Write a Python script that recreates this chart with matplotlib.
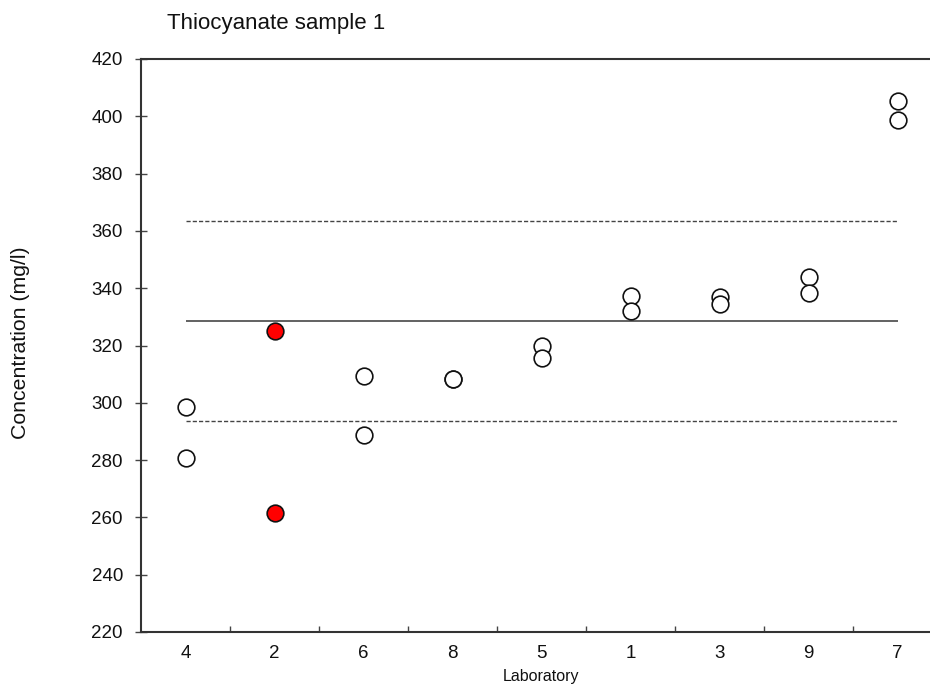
import matplotlib.pyplot as plt
import numpy as np

plt.rcParams['font.family'] = ['Liberation Sans', 'DejaVu Sans']

# ==================== data ====================
labs = ['4', '2', '6', '8', '5', '1', '3', '9', '7']
rep1 = [298.4, 325.0, 309.2, 308.4, 319.8, 337.2, 336.8, 343.9, 405.5]
rep2 = [280.6, 261.4, 288.9, 308.2, 315.7, 332.1, 334.5, 338.2, 398.8]
outlier_labs = ['2']
assigned = 328.5
lower_lim = 293.5
upper_lim = 363.5

# ==================== figure ====================
fig = plt.figure(figsize=(9.3, 6.84), dpi=100)
ax = fig.add_axes([141 / 930, 52 / 684, 801 / 930, 573 / 684])

x = np.arange(1, len(labs) + 1)

ax.hlines(assigned, x[0], x[-1], color='#555555', linewidth=1.3, zorder=1)
ax.hlines([lower_lim, upper_lim], x[0], x[-1], color='#444444', linewidth=1.0,
          linestyles=(0, (3, 1.5)), zorder=1)

for i, lab in enumerate(labs):
    face = 'red' if lab in outlier_labs else 'white'
    ax.plot([x[i], x[i]], [rep1[i], rep2[i]], linestyle='none', marker='o',
            markersize=12, markerfacecolor=face, markeredgecolor='#111111',
            markeredgewidth=1.2, zorder=3)

ax.set_xlim(0.5, len(labs) + 0.5)
ax.set_ylim(220, 420)
ax.set_yticks(np.arange(220, 421, 20))
ax.set_xticks(x)
ax.set_xticklabels(labs)
ax.set_xticks(np.arange(1.5, len(labs), 1), minor=True)

ax.tick_params(axis='y', direction='inout', length=8, width=1, color='#444444',
               labelsize=13.5, pad=9, labelcolor='#111111')
ax.tick_params(axis='x', which='major', length=0, labelsize=13.5, pad=9,
               labelcolor='#111111')
ax.tick_params(axis='x', which='minor', direction='in', length=4, width=1,
               color='#444444')

for side in ['left', 'bottom', 'top', 'right']:
    ax.spines[side].set_color('#333333')
    ax.spines[side].set_linewidth(1.5)

fig.text(167 / 930, 1 - 24 / 684, 'Thiocyanate sample 1', fontsize=16,
         ha='left', va='center', color='#111111')
fig.text(20 / 930, 1 - 343 / 684, 'Concentration (mg/l)', fontsize=15.3,
         rotation=90, ha='center', va='center', color='#111111')
fig.text(541 / 930, 1 - 677 / 684, 'Laboratory', fontsize=11.5,
         ha='center', va='center', color='#111111')

fig.savefig('out.png', dpi=100)
